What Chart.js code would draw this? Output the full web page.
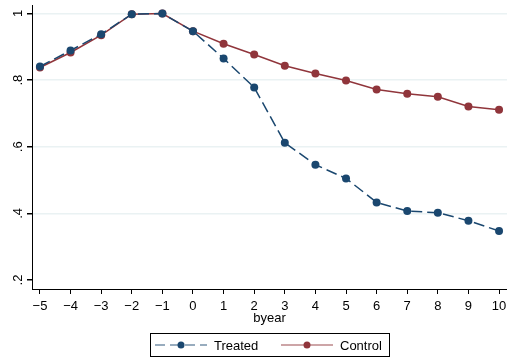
<!DOCTYPE html>
<html>
<head>
<meta charset="utf-8">
<script src="https://cdn.jsdelivr.net/npm/chart.js@4/dist/chart.umd.min.js"></script>
<style>
  html, body { margin: 0; padding: 0; background: #ffffff; }
  #wrap { width: 507px; height: 360px; position: relative; }
</style>
</head>
<body>
<div id="wrap"><canvas id="byearChart"></canvas></div>
<script>
const years = [-5, -4, -3, -2, -1, 0, 1, 2, 3, 4, 5, 6, 7, 8, 9, 10];
const treated = [0.841, 0.889, 0.938, 0.998, 1.0, 0.947, 0.865, 0.778, 0.612, 0.546, 0.505, 0.433, 0.407, 0.402, 0.378, 0.347];
const control = [0.838, 0.883, 0.935, 0.998, 1.0, 0.947, 0.909, 0.877, 0.843, 0.820, 0.799, 0.772, 0.759, 0.750, 0.721, 0.711];
const yTicks = [0.2, 0.4, 0.6, 0.8, 1];
const seriesNames = ["Treated", "Control"];

const navy = "#1a476f";
const maroon = "#90353b";
const gridColor = "#eaf2f3";
const fontFamily = "'Liberation Sans', Arial, Helvetica, sans-serif";

Chart.defaults.font.family = fontFamily;
Chart.defaults.font.size = 13;
Chart.defaults.color = "#000000";

function toPoints(values) {
  return years.map((x, i) => ({ x, y: values[i] }));
}

function fmtTick(value) {
  const v = Math.round(value * 10) / 10;
  if (v === 1) return "1";
  return String(v).replace(/^0/, "");
}

// boxed legend under the axis title, Stata style
const boxLegend = {
  id: "boxLegend",
  afterDraw(chart) {
    const ctx = chart.ctx;
    const box = { x: 150.5, y: 333.5, w: 239, h: 23 };
    const midY = box.y + box.h / 2;
    ctx.save();
    ctx.strokeStyle = "#000000";
    ctx.lineWidth = 1;
    ctx.strokeRect(box.x, box.y, box.w, box.h);

    const items = [
      { label: seriesNames[0], color: navy, dash: [10, 5], x0: 155, x1: 207 },
      { label: seriesNames[1], color: maroon, dash: [], x0: 281, x1: 333 },
    ];
    items.forEach((item) => {
      ctx.globalAlpha = 0.6;
      ctx.strokeStyle = item.color;
      ctx.lineWidth = 1.5;
      ctx.setLineDash(item.dash);
      ctx.beginPath();
      ctx.moveTo(item.x0, midY);
      ctx.lineTo(item.x1, midY);
      ctx.stroke();
      ctx.setLineDash([]);
      ctx.globalAlpha = 1;
      ctx.fillStyle = item.color;
      ctx.beginPath();
      ctx.arc((item.x0 + item.x1) / 2, midY, 3.5, 0, Math.PI * 2);
      ctx.fill();
      ctx.fillStyle = "#000000";
      ctx.font = `13px ${fontFamily}`;
      ctx.textBaseline = "middle";
      ctx.textAlign = "left";
      ctx.fillText(item.label, item.x1 + 7, midY + 1);
    });
    ctx.restore();
  },
};

new Chart(document.getElementById("byearChart"), {
  type: "line",
  data: {
    datasets: [
      {
        label: seriesNames[0],
        data: toPoints(treated),
        borderColor: navy,
        backgroundColor: navy,
        borderWidth: 1.5,
        borderDash: [11, 5],
        pointRadius: 4,
        pointBorderWidth: 0,
        tension: 0,
      },
      {
        label: seriesNames[1],
        data: toPoints(control),
        borderColor: maroon,
        backgroundColor: maroon,
        borderWidth: 1.5,
        pointRadius: 4,
        pointBorderWidth: 0,
        tension: 0,
      },
    ],
  },
  options: {
    responsive: true,
    maintainAspectRatio: false,
    animation: false,
    layout: { autoPadding: false, padding: { top: 5, right: 0, bottom: 34, left: 0 } },
    plugins: {
      legend: { display: false },
      tooltip: { enabled: false },
    },
    scales: {
      x: {
        type: "linear",
        min: -5.26,
        max: 10.26,
        afterBuildTicks: (scale) => {
          scale.ticks = years.map((v) => ({ value: v }));
        },
        afterFit: (scale) => {
          scale.height = 37;
          scale.paddingLeft = 0;
          scale.paddingRight = 0;
          scale.paddingTop = 0;
          scale.paddingBottom = 0;
        },
        ticks: {
          autoSkip: false,
          maxRotation: 0,
          padding: 5,
          callback: (v) => String(v).replace("-", "\u2212"),
        },
        grid: {
          drawOnChartArea: false,
          tickColor: "#000000",
          tickLength: 5,
        },
        border: { color: "#000000", width: 1 },
        title: {
          display: true,
          text: "byear",
          font: { size: 13 },
          padding: { top: 0, bottom: 0 },
        },
      },
      y: {
        type: "linear",
        min: 0.173,
        max: 1.0255,
        afterBuildTicks: (scale) => {
          scale.ticks = yTicks.map((v) => ({ value: v }));
        },
        afterFit: (scale) => {
          scale.width = 32;
          scale.paddingLeft = 0;
          scale.paddingRight = 0;
          scale.paddingTop = 0;
          scale.paddingBottom = 0;
        },
        ticks: {
          minRotation: 90,
          maxRotation: 90,
          crossAlign: "center",
          padding: 3,
          callback: (v) => fmtTick(v),
        },
        grid: {
          color: (ctx) => (ctx.tick && ctx.tick.value === 0.2 ? "rgba(0,0,0,0)" : gridColor),
          lineWidth: 1.5,
          tickColor: "#000000",
          tickLength: 5,
        },
        border: { color: "#000000", width: 1 },
      },
    },
  },
  plugins: [boxLegend],
});
</script>
</body>
</html>
